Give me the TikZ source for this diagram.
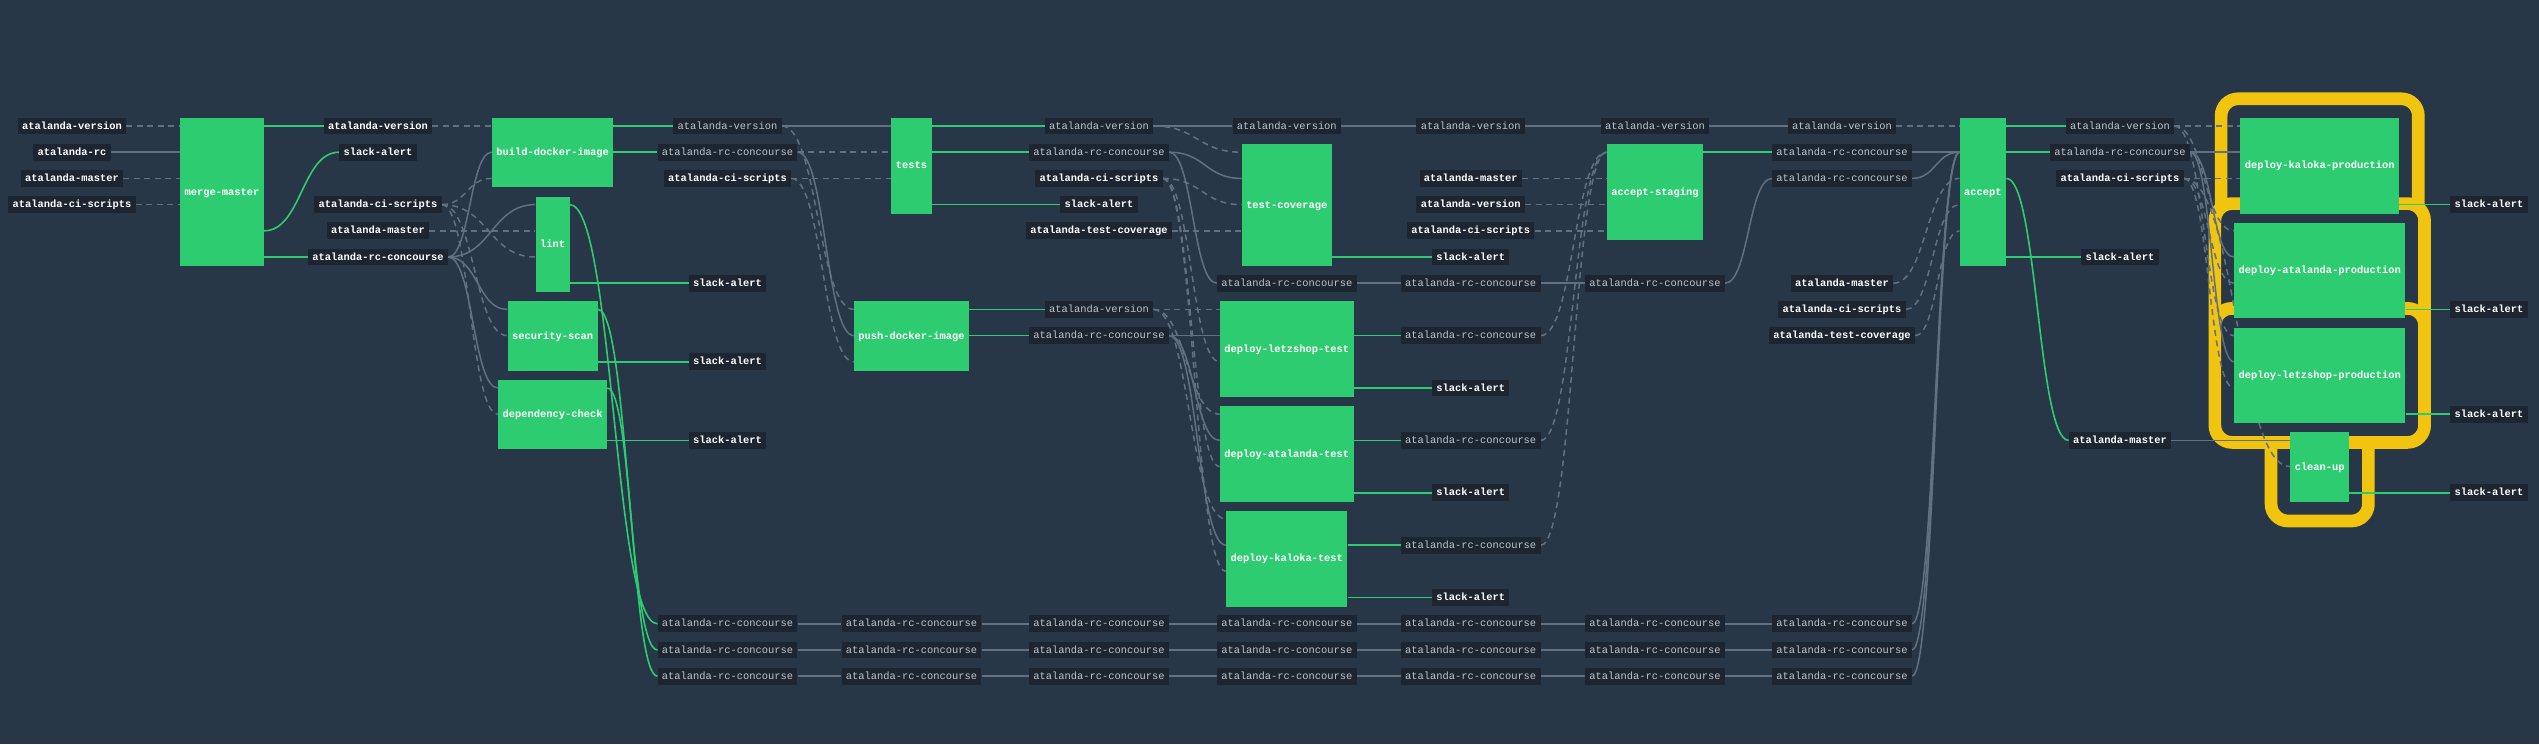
\documentclass[tikz,border=0pt]{standalone}
\usepackage{fontspec}
\setmainfont{Liberation Mono}
\usetikzlibrary{calc}
\pgfdeclarelayer{back}
\pgfdeclarelayer{edges}
\pgfsetlayers{back,edges,main}
\definecolor{bgc}{RGB}{39,55,71}
\definecolor{labc}{RGB}{29,37,48}
\definecolor{jobc}{RGB}{46,204,113}
\definecolor{yelc}{RGB}{241,196,15}
\definecolor{linec}{RGB}{98,112,128}
\definecolor{greytxt}{RGB}{190,197,204}
\tikzset{
 lab/.style={fill=labc, inner xsep=4.3pt, inner ysep=0pt, minimum height=16.7pt, text height=7pt, text depth=1pt},
 labw/.style={lab, text=white, font=\fontsize{10.4}{12}\selectfont\bfseries},
 labg/.style={lab, text=greytxt, font=\fontsize{10.4}{12}\selectfont},
 jobbox/.style={fill=jobc, text=white, inner xsep=4.5pt, inner ysep=0pt, text height=7pt, text depth=1pt, font=\fontsize{10.4}{12}\selectfont\bfseries},
 lsolid/.style={draw=linec, line width=1.5pt},
 ldash/.style={draw=linec, line width=1.5pt, dash pattern=on 6pt off 4.5pt},
 lgreen/.style={draw=jobc, line width=1.6pt},
 yfr/.style={draw=yelc, fill=bgc, line width=12.7pt, rounded corners=17pt},
}
\newcommand\lnk[3]{\draw[#1] let \p1=(#2), \p2=(#3), \n1={(\x2-\x1)/2} in (\p1) .. controls +(\n1,0) and +(-\n1,0) .. (\p2);}
\newcommand\lab[5]{\node[#1] (#2) at (#3,{126+26.2*#4}) {#5};}
\newcommand\jb[5]{\node[jobbox, minimum height={26.2*(#4-#3)+17}] (#1) at (#2,{126+26.2*(#3+#4)/2+0.5}) {#5};}
\newcommand\yfram[1]{\draw[yfr] ([shift={(-19,-19)}]#1.north west) rectangle ([shift={(19,19)}]#1.south east);}
\begin{document}
\begin{tikzpicture}[x=1pt,y=-1pt]
\useasboundingbox (0,0) rectangle (2539,744);
\foreach \k in {0,...,21} {\coordinate (r\k) at (0,{126+26.2*\k});}
% column 0
\lab{labw}{a1}{72}{0}{atalanda-version}
\lab{labw}{a2}{72}{1}{atalanda-rc}
\lab{labw}{a3}{72}{2}{atalanda-master}
\lab{labw}{a4}{72}{3}{atalanda-ci-scripts}
\jb{mm}{222}{0}{5}{merge-master}
% column 1
\lab{labw}{b1}{378}{0}{atalanda-version}
\lab{labw}{b2}{378}{1}{slack-alert}
\lab{labw}{b3}{378}{3}{atalanda-ci-scripts}
\lab{labw}{b4}{378}{4}{atalanda-master}
\lab{labw}{b5}{378}{5}{atalanda-rc-concourse}
\jb{bdi}{552.6}{0}{2}{build-docker-image}
\jb{lint}{552.6}{3}{6}{lint}
\jb{sec}{552.6}{7}{9}{security-scan}
\jb{dep}{552.6}{10}{12}{dependency-check}
% column 2
\lab{labg}{d1}{727.5}{0}{atalanda-version}
\lab{labg}{d2}{727.5}{1}{atalanda-rc-concourse}
\lab{labw}{d3}{727.5}{2}{atalanda-ci-scripts}
\lab{labw}{d4}{727.5}{6}{slack-alert}
\lab{labw}{d5}{727.5}{9}{slack-alert}
\lab{labw}{d6}{727.5}{12}{slack-alert}
\jb{tests}{911.5}{0}{3}{tests}
\jb{push}{911.5}{7}{9}{push-docker-image}
% column 4
\lab{labg}{f1}{1099}{0}{atalanda-version}
\lab{labg}{f2}{1099}{1}{atalanda-rc-concourse}
\lab{labw}{f3}{1099}{2}{atalanda-ci-scripts}
\lab{labw}{f4}{1099}{3}{slack-alert}
\lab{labw}{f5}{1099}{4}{atalanda-test-coverage}
\lab{labg}{f6}{1099}{7}{atalanda-version}
\lab{labg}{f7}{1099}{8}{atalanda-rc-concourse}
% column 5
\lab{labg}{g1}{1286.8}{0}{atalanda-version}
\jb{tc}{1286.8}{1}{5}{test-coverage}
\lab{labg}{g2}{1286.8}{6}{atalanda-rc-concourse}
\jb{dlt}{1286.8}{7}{10}{deploy-letzshop-test}
\jb{dat}{1286.8}{11}{14}{deploy-atalanda-test}
\jb{dkt}{1286.8}{15}{18}{deploy-kaloka-test}
% column 6
\lab{labg}{h1}{1470.7}{0}{atalanda-version}
\lab{labw}{h2}{1470.7}{2}{atalanda-master}
\lab{labw}{h3}{1470.7}{3}{atalanda-version}
\lab{labw}{h6}{1470.7}{4}{atalanda-ci-scripts}
\lab{labw}{h4}{1470.7}{5}{slack-alert}
\lab{labg}{h5}{1470.7}{6}{atalanda-rc-concourse}
\lab{labg}{h7}{1470.7}{8}{atalanda-rc-concourse}
\lab{labw}{h8}{1470.7}{10}{slack-alert}
\lab{labg}{h9}{1470.7}{12}{atalanda-rc-concourse}
\lab{labw}{h10}{1470.7}{14}{slack-alert}
\lab{labg}{h11}{1470.7}{16}{atalanda-rc-concourse}
\lab{labw}{h12}{1470.7}{18}{slack-alert}
% column 7
\lab{labg}{i1}{1655}{0}{atalanda-version}
\jb{acs}{1655}{1}{4}{accept-staging}
\lab{labg}{i2}{1655}{6}{atalanda-rc-concourse}
% column 8
\lab{labg}{k1}{1842}{0}{atalanda-version}
\lab{labg}{k2}{1842}{1}{atalanda-rc-concourse}
\lab{labg}{k3}{1842}{2}{atalanda-rc-concourse}
\lab{labw}{k4}{1842}{6}{atalanda-master}
\lab{labw}{k5}{1842}{7}{atalanda-ci-scripts}
\lab{labw}{k6}{1842}{8}{atalanda-test-coverage}
\jb{acc}{1982.9}{0}{5}{accept}
% column 9
\lab{labg}{m1}{2120}{0}{atalanda-version}
\lab{labg}{m2}{2120}{1}{atalanda-rc-concourse}
\lab{labw}{m3}{2120}{2}{atalanda-ci-scripts}
\lab{labw}{m4}{2120}{5}{slack-alert}
\lab{labw}{m5}{2120}{12}{atalanda-master}
\jb{kp}{2319.7}{0}{3}{deploy-kaloka-production}
\jb{ap}{2319.7}{4}{7}{deploy-atalanda-production}
\jb{lp}{2319.7}{8}{11}{deploy-letzshop-production}
\jb{cu}{2319.7}{12}{14}{clean-up}
\lab{labw}{n1}{2489}{3}{slack-alert}
\lab{labw}{n2}{2489}{7}{slack-alert}
\lab{labw}{n3}{2489}{11}{slack-alert}
\lab{labw}{n4}{2489}{14}{slack-alert}
% bottom pass-through rows
\foreach \c/\x in {p/727.5,q/911.5,s/1099,t/1286.8,u/1470.7,v/1655,w/1842} {
  \foreach \k in {19,20,21} {\lab{labg}{\c\k}{\x}{\k}{atalanda-rc-concourse}}
}
\begin{pgfonlayer}{back}
\fill[bgc] (0,0) rectangle (2539,744);
\yfram{cu}
\yfram{kp}
\yfram{ap}
\yfram{lp}
\end{pgfonlayer}
\begin{pgfonlayer}{edges}
\lnk{ldash}{a1.east}{mm.west |- r0}
\lnk{lsolid}{a2.east}{mm.west |- r1}
\lnk{ldash}{a3.east}{mm.west |- r2}
\lnk{ldash}{a4.east}{mm.west |- r3}
\lnk{lgreen}{mm.east |- r0}{b1.west}
\lnk{lgreen}{mm.east |- r4}{b2.west}
\lnk{lgreen}{mm.east |- r5}{b5.west}
\lnk{ldash}{b1.east}{bdi.west |- r0}
\lnk{lsolid}{b5.east}{bdi.west |- r1}
\lnk{ldash}{b3.east}{bdi.west |- r2}
\lnk{lsolid}{b5.east}{lint.west |- r3}
\lnk{ldash}{b4.east}{lint.west |- r4}
\lnk{ldash}{b3.east}{lint.west |- r5}
\lnk{lsolid}{b5.east}{sec.west |- r7}
\lnk{ldash}{b3.east}{sec.west |- r8}
\lnk{lsolid}{b5.east}{dep.west |- r10}
\lnk{ldash}{b3.east}{dep.west |- r11}
\lnk{lgreen}{bdi.east |- r0}{d1.west}
\lnk{lgreen}{bdi.east |- r1}{d2.west}
\lnk{lgreen}{lint.east |- r3}{p19.west}
\lnk{lgreen}{lint.east |- r6}{d4.west}
\lnk{lgreen}{sec.east |- r7}{p20.west}
\lnk{lgreen}{sec.east |- r9}{d5.west}
\lnk{lgreen}{dep.east |- r10}{p21.west}
\lnk{lgreen}{dep.east |- r12}{d6.west}
\lnk{lsolid}{d1.east}{tests.west |- r0}
\lnk{ldash}{d2.east}{tests.west |- r1}
\lnk{ldash}{d3.east}{tests.west |- r2}
\lnk{ldash}{d1.east}{push.west |- r7}
\lnk{lsolid}{d2.east}{push.west |- r8}
\lnk{ldash}{d3.east}{push.west |- r9}
\lnk{lgreen}{tests.east |- r0}{f1.west}
\lnk{lgreen}{tests.east |- r1}{f2.west}
\lnk{lgreen}{tests.east |- r3}{f4.west}
\lnk{lgreen}{push.east |- r7}{f6.west}
\lnk{lgreen}{push.east |- r8}{f7.west}
\lnk{lsolid}{f1.east}{g1.west}
\lnk{lsolid}{g1.east}{h1.west}
\lnk{lsolid}{h1.east}{i1.west}
\lnk{lsolid}{i1.east}{k1.west}
\lnk{ldash}{k1.east}{acc.west |- r0}
\lnk{ldash}{f1.east}{tc.west |- r1}
\lnk{lsolid}{f2.east}{tc.west |- r2}
\lnk{ldash}{f3.east}{tc.west |- r3}
\lnk{ldash}{f5.east}{tc.west |- r4}
\lnk{lgreen}{tc.east |- r5}{h4.west}
\lnk{lsolid}{f2.east}{g2.west}
\lnk{lsolid}{g2.east}{h5.west}
\lnk{lsolid}{h5.east}{i2.west}
\lnk{lsolid}{i2.east}{k3.west}
\lnk{ldash}{f6.east}{dlt.west |- r7}
\lnk{lsolid}{f7.east}{dlt.west |- r8}
\lnk{ldash}{f3.east}{dlt.west |- r9}
\lnk{ldash}{f6.east}{dat.west |- r11}
\lnk{lsolid}{f7.east}{dat.west |- r12}
\lnk{ldash}{f3.east}{dat.west |- r13}
\lnk{ldash}{f6.east}{dkt.west |- r15}
\lnk{lsolid}{f7.east}{dkt.west |- r16}
\lnk{ldash}{f3.east}{dkt.west |- r17}
\lnk{lgreen}{dlt.east |- r8}{h7.west}
\lnk{lgreen}{dlt.east |- r10}{h8.west}
\lnk{lgreen}{dat.east |- r12}{h9.west}
\lnk{lgreen}{dat.east |- r14}{h10.west}
\lnk{lgreen}{dkt.east |- r16}{h11.west}
\lnk{lgreen}{dkt.east |- r18}{h12.west}
\lnk{ldash}{h7.east}{acs.west |- r1}
\lnk{ldash}{h9.east}{acs.west |- r1}
\lnk{ldash}{h11.east}{acs.west |- r1}
\lnk{ldash}{h2.east}{acs.west |- r2}
\lnk{ldash}{h3.east}{acs.west |- r3}
\lnk{ldash}{h6.east}{acs.west |- r4}
\lnk{lgreen}{acs.east |- r1}{k2.west}
\lnk{lsolid}{k2.east}{acc.west |- r1}
\lnk{lsolid}{k3.east}{acc.west |- r1}
\foreach \k in {19,20,21} {
  \lnk{lsolid}{p\k.east}{q\k.west}
  \lnk{lsolid}{q\k.east}{s\k.west}
  \lnk{lsolid}{s\k.east}{t\k.west}
  \lnk{lsolid}{t\k.east}{u\k.west}
  \lnk{lsolid}{u\k.east}{v\k.west}
  \lnk{lsolid}{v\k.east}{w\k.west}
  \lnk{lsolid}{w\k.east}{acc.west |- r1}
}
\lnk{ldash}{k4.east}{acc.west |- r2}
\lnk{ldash}{k5.east}{acc.west |- r3}
\lnk{ldash}{k6.east}{acc.west |- r4}
\lnk{lgreen}{acc.east |- r0}{m1.west}
\lnk{lgreen}{acc.east |- r1}{m2.west}
\lnk{lgreen}{acc.east |- r2}{m5.west}
\lnk{lgreen}{acc.east |- r5}{m4.west}
\lnk{ldash}{m1.east}{kp.west |- r0}
\lnk{lsolid}{m2.east}{kp.west |- r1}
\lnk{ldash}{m3.east}{kp.west |- r2}
\lnk{ldash}{m1.east}{ap.west |- r4}
\lnk{lsolid}{m2.east}{ap.west |- r5}
\lnk{ldash}{m3.east}{ap.west |- r6}
\lnk{ldash}{m1.east}{lp.west |- r8}
\lnk{lsolid}{m2.east}{lp.west |- r9}
\lnk{ldash}{m3.east}{lp.west |- r10}
\lnk{lsolid}{m5.east}{cu.west |- r12}
\lnk{ldash}{m3.east}{cu.west |- r13}
\lnk{lgreen}{kp.east |- r3}{n1.west}
\lnk{lgreen}{ap.east |- r7}{n2.west}
\lnk{lgreen}{lp.east |- r11}{n3.west}
\lnk{lgreen}{cu.east |- r14}{n4.west}
\end{pgfonlayer}
\end{tikzpicture}
\end{document}
